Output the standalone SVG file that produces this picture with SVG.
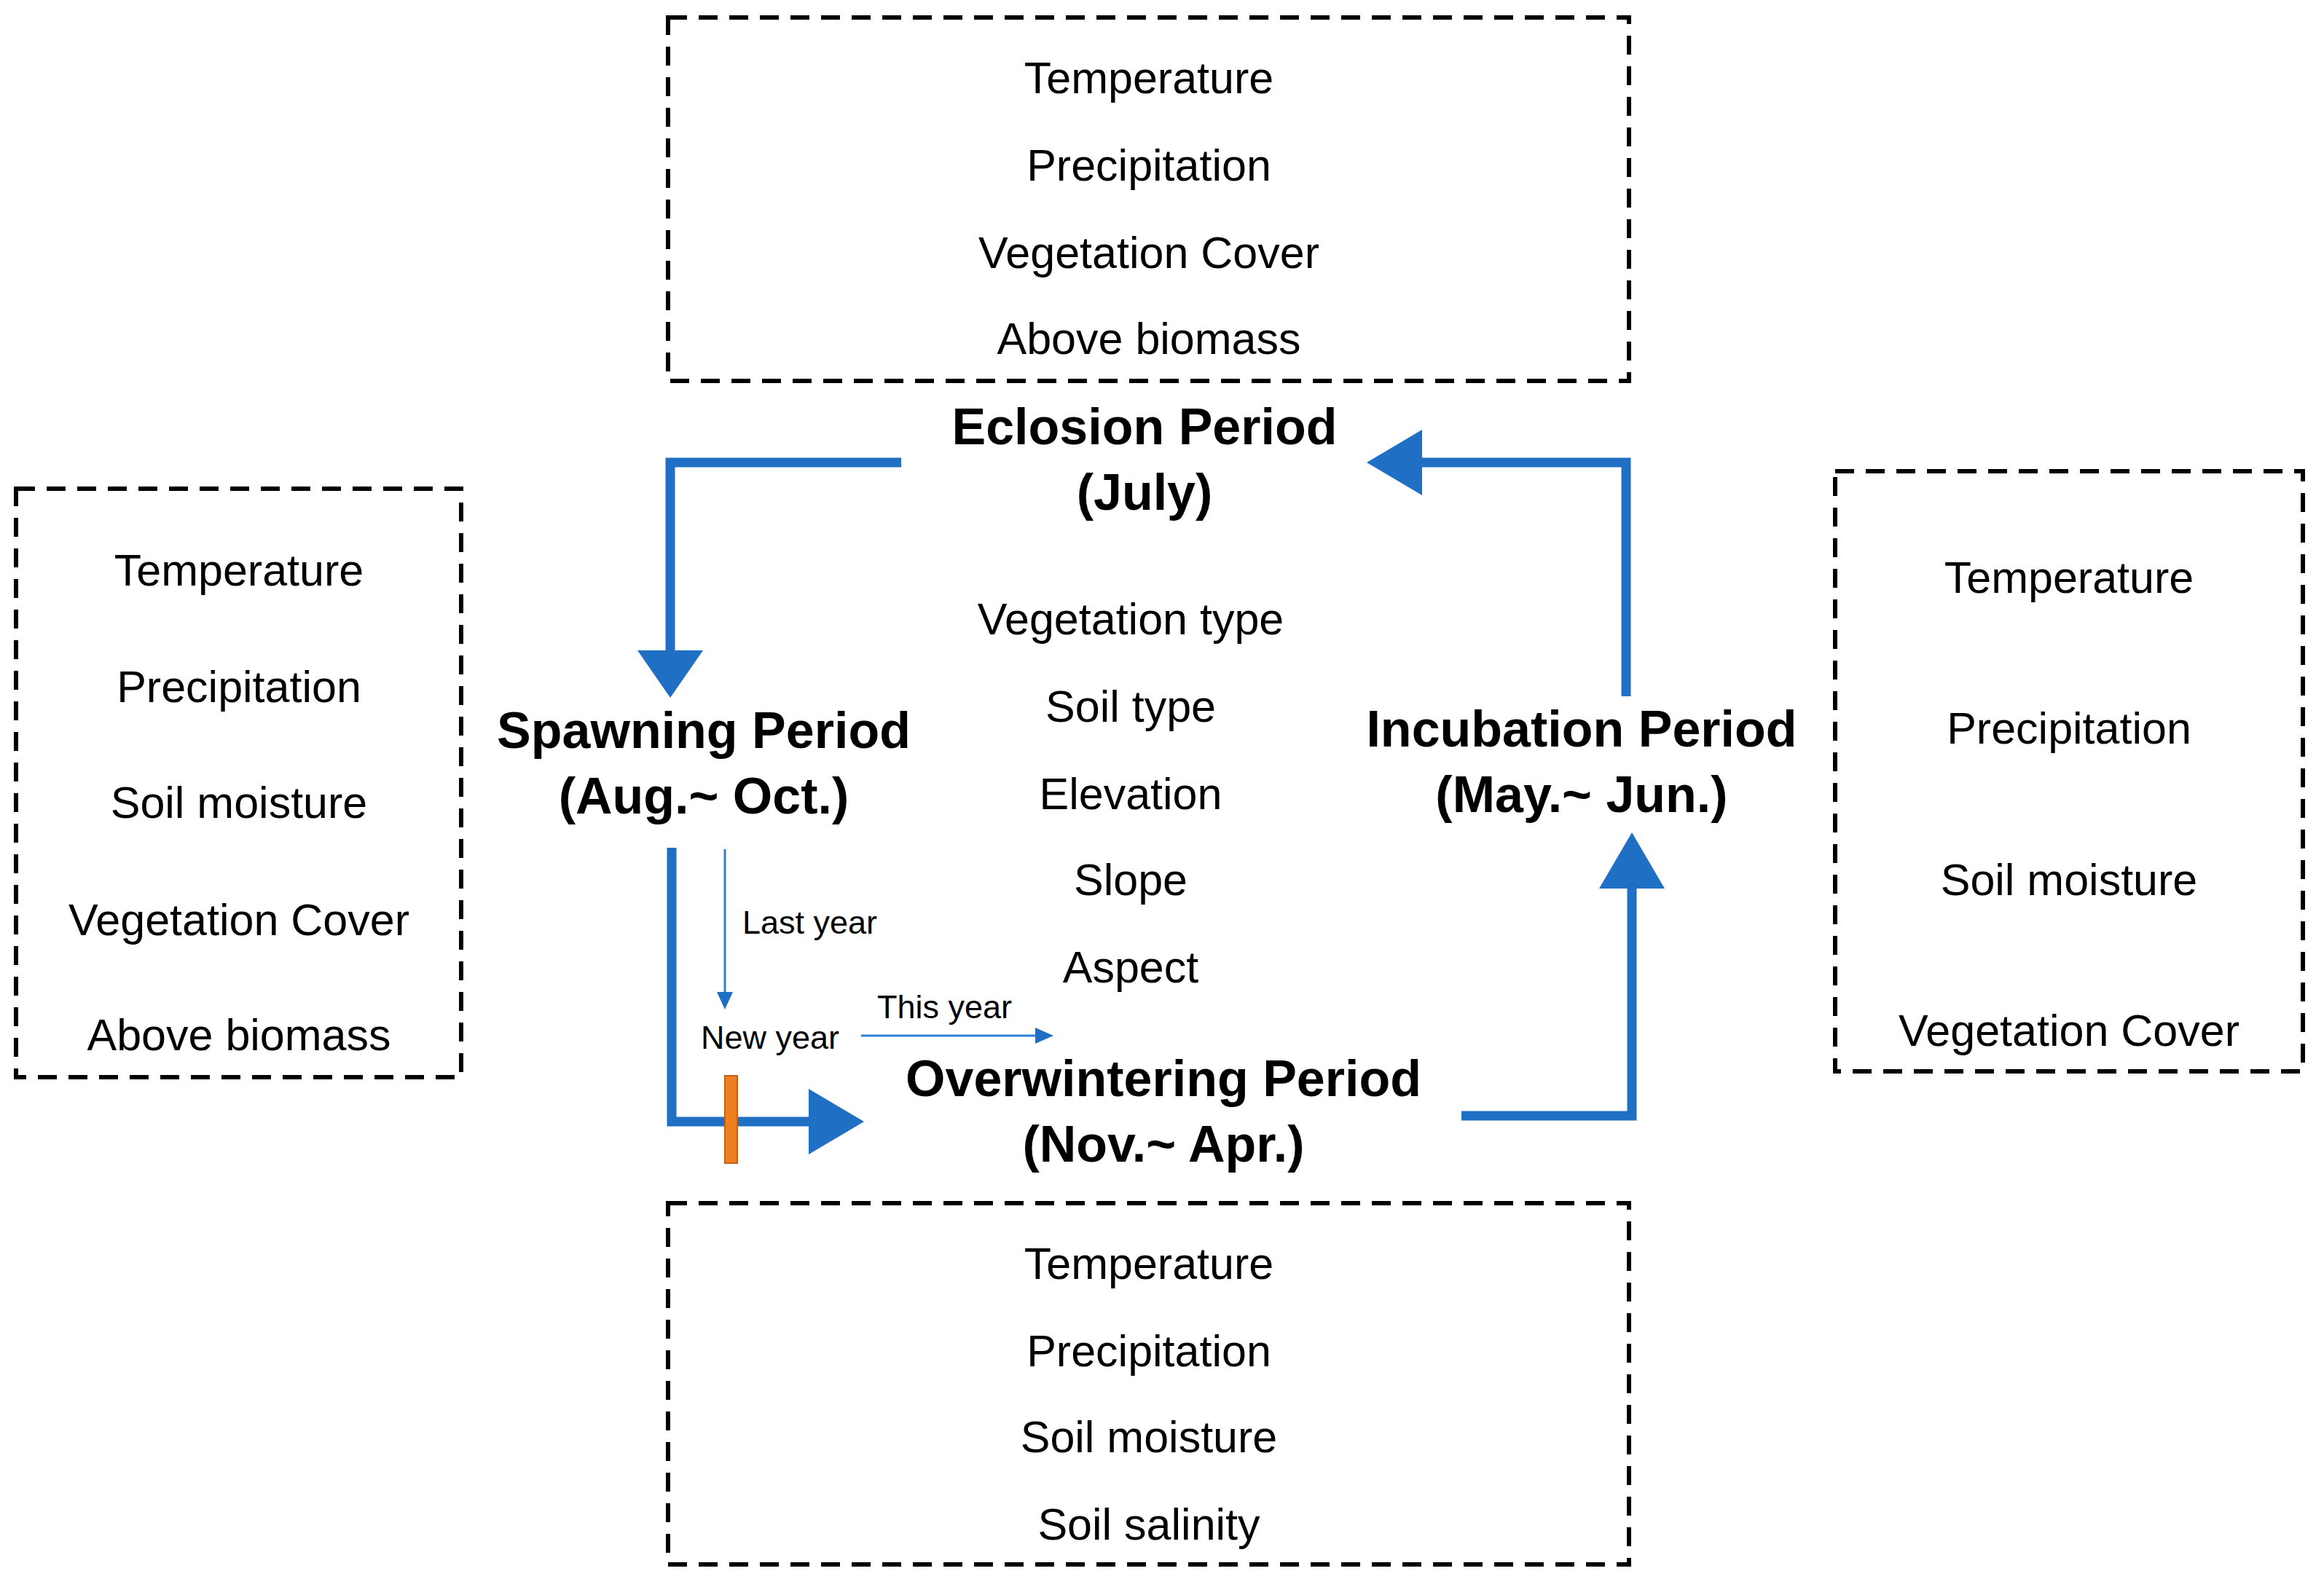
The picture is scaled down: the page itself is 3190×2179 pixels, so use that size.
<svg xmlns="http://www.w3.org/2000/svg" width="3190" height="2179" viewBox="0 0 3190 2179">
<style>
.box{fill:none;stroke:#000;stroke-width:6;stroke-dasharray:26 16}
.t{font-family:"Liberation Sans",Arial,sans-serif;font-size:61px;text-anchor:middle;fill:#000}
.b{font-family:"Liberation Sans",Arial,sans-serif;font-size:70px;font-weight:bold;text-anchor:middle;fill:#000}
.s{font-family:"Liberation Sans",Arial,sans-serif;font-size:45px;fill:#000}
.a{fill:none;stroke:#1F6FC5;stroke-width:13}
.h{fill:#1F6FC5}
.thin{stroke:#2F7FD5;stroke-width:3;fill:none}
</style>
<rect width="3190" height="2179" fill="#fff"/>
<g id="box-top"><rect class="box" x="917" y="24" width="1319" height="499"/>
<text class="t" x="1577" y="128">Temperature</text><text class="t" x="1577" y="248">Precipitation</text><text class="t" x="1577" y="368">Vegetation Cover</text><text class="t" x="1577" y="486">Above biomass</text></g>
<g id="box-left"><rect class="box" x="22" y="671" width="611" height="808"/>
<text class="t" x="328" y="804">Temperature</text><text class="t" x="328" y="964">Precipitation</text><text class="t" x="328" y="1123">Soil moisture</text><text class="t" x="328" y="1284">Vegetation Cover</text><text class="t" x="328" y="1442">Above biomass</text></g>
<g id="box-right"><rect class="box" x="2519" y="647" width="642" height="824"/>
<text class="t" x="2840" y="814">Temperature</text><text class="t" x="2840" y="1021">Precipitation</text><text class="t" x="2840" y="1229">Soil moisture</text><text class="t" x="2840" y="1436">Vegetation Cover</text></g>
<g id="box-bottom"><rect class="box" x="917" y="1652" width="1319" height="496"/>
<text class="t" x="1577" y="1756">Temperature</text><text class="t" x="1577" y="1876">Precipitation</text><text class="t" x="1577" y="1994">Soil moisture</text><text class="t" x="1577" y="2114">Soil salinity</text></g>
<g id="center"><text class="t" x="1552" y="871">Vegetation type</text><text class="t" x="1552" y="991">Soil type</text><text class="t" x="1552" y="1111">Elevation</text><text class="t" x="1552" y="1229">Slope</text><text class="t" x="1552" y="1349">Aspect</text></g>
<g id="eclosion"><text class="b" x="1571" y="610">Eclosion Period</text><text class="b" x="1571" y="700">(July)</text></g>
<g id="spawning"><text class="b" x="966" y="1027">Spawning Period</text><text class="b" x="966" y="1117">(Aug.~ Oct.)</text></g>
<g id="incubation"><text class="b" x="2171" y="1025">Incubation Period</text><text class="b" x="2171" y="1115">(May.~ Jun.)</text></g>
<g id="overwintering"><text class="b" x="1597" y="1505">Overwintering Period</text><text class="b" x="1597" y="1595">(Nov.~ Apr.)</text></g>
<g id="connectors">
<polyline class="a" points="1237,635 920,635 920,895"/><polygon class="h" points="875,893 965,893 920,958"/>
<polyline class="a" points="2232,956 2232,635 1950,635"/><polygon class="h" points="1952,590 1952,680 1876,635"/>
<polyline class="a" points="2006,1532 2240,1532 2240,1218"/><polygon class="h" points="2195,1220 2285,1220 2240,1143"/>
<polyline class="a" points="922,1164 922,1540 1112,1540"/><polygon class="h" points="1110,1495 1110,1585 1186,1540"/>
<rect x="995" y="1477" width="17" height="120" fill="#F07F22" stroke="#C0601A" stroke-width="2"/>
<line class="thin" x1="995" y1="1166" x2="995" y2="1365"/><polygon class="h" points="984,1362 1006,1362 995,1386"/>
<line class="thin" x1="1182" y1="1422" x2="1424" y2="1422"/><polygon class="h" points="1421,1411 1421,1433 1446,1422"/>
<text class="s" x="1019" y="1282">Last year</text>
<text class="s" x="962" y="1440">New year</text>
<text class="s" x="1204" y="1398">This year</text>
</g>
</svg>
